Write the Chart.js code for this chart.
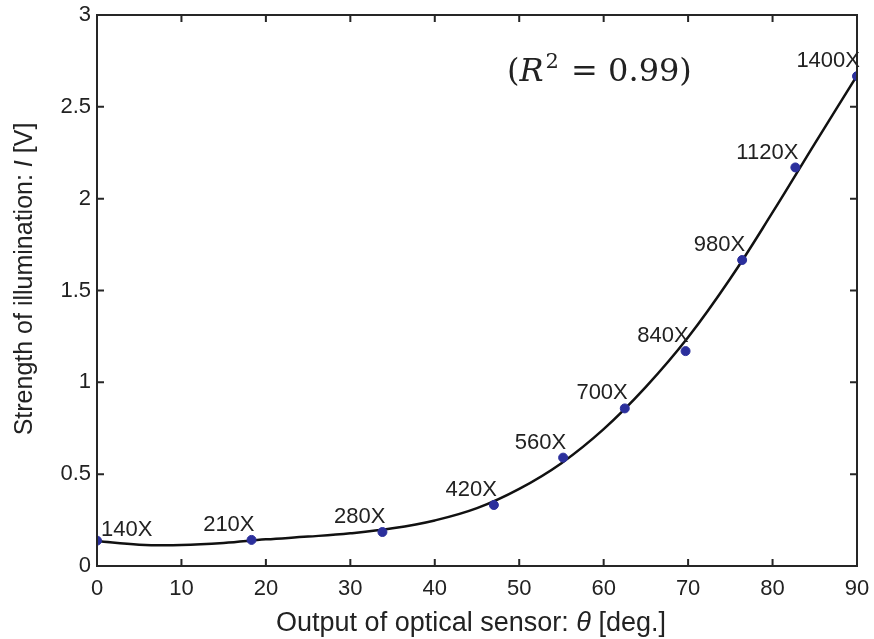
<!DOCTYPE html>
<html>
<head>
<meta charset="utf-8">
<script src="https://cdn.jsdelivr.net/npm/chart.js@4/dist/chart.umd.min.js"></script>
<style>
  html, body { margin: 0; padding: 0; background: #fff; }
  #wrap { width: 874px; height: 639px; position: relative; }
</style>
</head>
<body>
<div id="wrap"><canvas id="sensorChart" width="874" height="639"></canvas></div>
<script>
// measured points: sensor output (deg) vs illumination (V), one per magnification
const angle = [0, 18.3, 33.8, 47.0, 55.2, 62.5, 69.7, 76.4, 82.7, 90];
const volts = [0.138, 0.142, 0.185, 0.332, 0.590, 0.858, 1.170, 1.666, 2.170, 2.667];
const magLabels = ['140X', '210X', '280X', '420X', '560X', '700X', '840X', '980X', '1120X', '1400X'];

// fitted curve, read along its length
const fitAngle = [0, 5, 10, 15, 20, 25, 30, 35, 40, 45, 50, 55, 60, 65, 70, 75, 80, 85, 90];
const fitVolts = [0.136, 0.116, 0.114, 0.125, 0.145, 0.160, 0.178, 0.205, 0.248, 0.315, 0.420, 0.560, 0.745, 0.975, 1.245, 1.565, 1.925, 2.300, 2.670];

const xTicks = [0, 10, 20, 30, 40, 50, 60, 70, 80, 90];
const yTicks = [0, 0.5, 1, 1.5, 2, 2.5, 3];

const AXIS = '#262626';
const TEXT = '#222';
const SANS = '"Liberation Sans", Arial, sans-serif';

// frame, inward ticks, point labels, titles and the R^2 note
const decor = {
  id: 'decor',
  afterDraw(chart) {
    const ctx = chart.ctx;
    const a = chart.chartArea;
    const xs = chart.scales.x, ys = chart.scales.y;
    ctx.save();
    ctx.strokeStyle = AXIS;
    ctx.lineWidth = 2;
    ctx.strokeRect(a.left, a.top, a.right - a.left, a.bottom - a.top);

    const tl = 7;
    ctx.beginPath();
    xTicks.forEach(v => {
      const px = xs.getPixelForValue(v);
      if (v === xs.min || v === xs.max) return;
      ctx.moveTo(px, a.bottom); ctx.lineTo(px, a.bottom - tl);
      ctx.moveTo(px, a.top); ctx.lineTo(px, a.top + tl);
    });
    yTicks.forEach(v => {
      const py = ys.getPixelForValue(v);
      if (v === ys.min || v === ys.max) return;
      ctx.moveTo(a.left, py); ctx.lineTo(a.left + tl, py);
      ctx.moveTo(a.right, py); ctx.lineTo(a.right - tl, py);
    });
    ctx.stroke();

    // magnification labels beside each dot
    const meta = chart.getDatasetMeta(1);
    ctx.fillStyle = TEXT;
    ctx.font = '22px ' + SANS;
    ctx.textBaseline = 'middle';
    meta.data.forEach((pt, i) => {
      if (i === 0) {
        ctx.textAlign = 'left';
        ctx.fillText(magLabels[i], pt.x + 4, pt.y - 11);
      } else {
        ctx.textAlign = 'right';
        ctx.fillText(magLabels[i], pt.x + 3, pt.y - 15);
      }
    });

    // x axis title
    ctx.textBaseline = 'alphabetic';
    const xParts = [['Output of optical sensor: ', ''], ['\u03B8', 'italic '], [' [deg.]', '']];
    drawParts(ctx, xParts, 27, 471, 631);

    // y axis title, rotated
    ctx.save();
    ctx.translate(32, 279);
    ctx.rotate(-Math.PI / 2);
    const yParts = [['Strength of illumination: ', ''], ['I', 'italic '], [' [V]', '']];
    drawParts(ctx, yParts, 25, 0, 0);
    ctx.restore();

    // goodness of fit
    const serif = '"DejaVu Serif", "Liberation Serif", serif';
    let x = 507, y = 81;
    ctx.textAlign = 'left';
    ctx.fillStyle = TEXT;
    ctx.font = '32px ' + serif;
    ctx.fillText('(', x, y); x += ctx.measureText('(').width;
    ctx.font = 'italic 32px ' + serif;
    ctx.fillText('R', x, y); x += ctx.measureText('R').width + 2;
    ctx.font = '21px ' + serif;
    ctx.fillText('2', x, y - 13); x += ctx.measureText('2').width + 2;
    ctx.font = '32px ' + serif;
    ctx.fillText(' = 0.99)', x, y);
    ctx.restore();
  }
};

// draws a centred run of text pieces with their own font style
function drawParts(ctx, parts, size, cx, cy) {
  let total = 0;
  parts.forEach(p => { ctx.font = p[1] + size + 'px ' + SANS; total += ctx.measureText(p[0]).width; });
  let x = cx - total / 2;
  ctx.textAlign = 'left';
  ctx.fillStyle = TEXT;
  parts.forEach(p => {
    ctx.font = p[1] + size + 'px ' + SANS;
    ctx.fillText(p[0], x, cy);
    x += ctx.measureText(p[0]).width;
  });
}

new Chart(document.getElementById('sensorChart'), {
  type: 'scatter',
  data: {
    datasets: [
      {
        label: 'fit',
        data: fitAngle.map((v, i) => ({ x: v, y: fitVolts[i] })),
        showLine: true,
        borderColor: '#111',
        borderWidth: 2.5,
        pointRadius: 0,
        tension: 0.4,
        order: 2
      },
      {
        label: 'measured',
        data: angle.map((v, i) => ({ x: v, y: volts[i] })),
        backgroundColor: '#2b2f9c',
        borderColor: '#2b2f9c',
        pointRadius: 4.5,
        order: 1
      }
    ]
  },
  options: {
    responsive: false,
    animation: false,
    devicePixelRatio: 1,
    layout: { padding: { left: 0, top: 15, right: 17, bottom: 0 } },
    plugins: { legend: { display: false }, tooltip: { enabled: false } },
    scales: {
      x: {
        type: 'linear', min: 0, max: 90,
        afterFit: s => { s.height = 73; s.paddingLeft = 0; s.paddingRight = 0; },
        afterBuildTicks: s => { s.ticks = xTicks.map(v => ({ value: v })); },
        grid: { display: false, drawTicks: false },
        border: { display: false },
        ticks: {
          color: TEXT, font: { family: SANS, size: 22 }, padding: 10,
          autoSkip: false, maxRotation: 0, minRotation: 0,
          callback: v => String(v)
        }
      },
      y: {
        type: 'linear', min: 0, max: 3,
        afterFit: s => { s.width = 97; s.paddingTop = 0; s.paddingBottom = 0; },
        afterBuildTicks: s => { s.ticks = yTicks.map(v => ({ value: v })); },
        grid: { display: false, drawTicks: false },
        border: { display: false },
        ticks: {
          color: TEXT, font: { family: SANS, size: 22 }, padding: 6,
          autoSkip: false, callback: v => String(v)
        }
      }
    }
  },
  plugins: [decor]
});
</script>
</body>
</html>
